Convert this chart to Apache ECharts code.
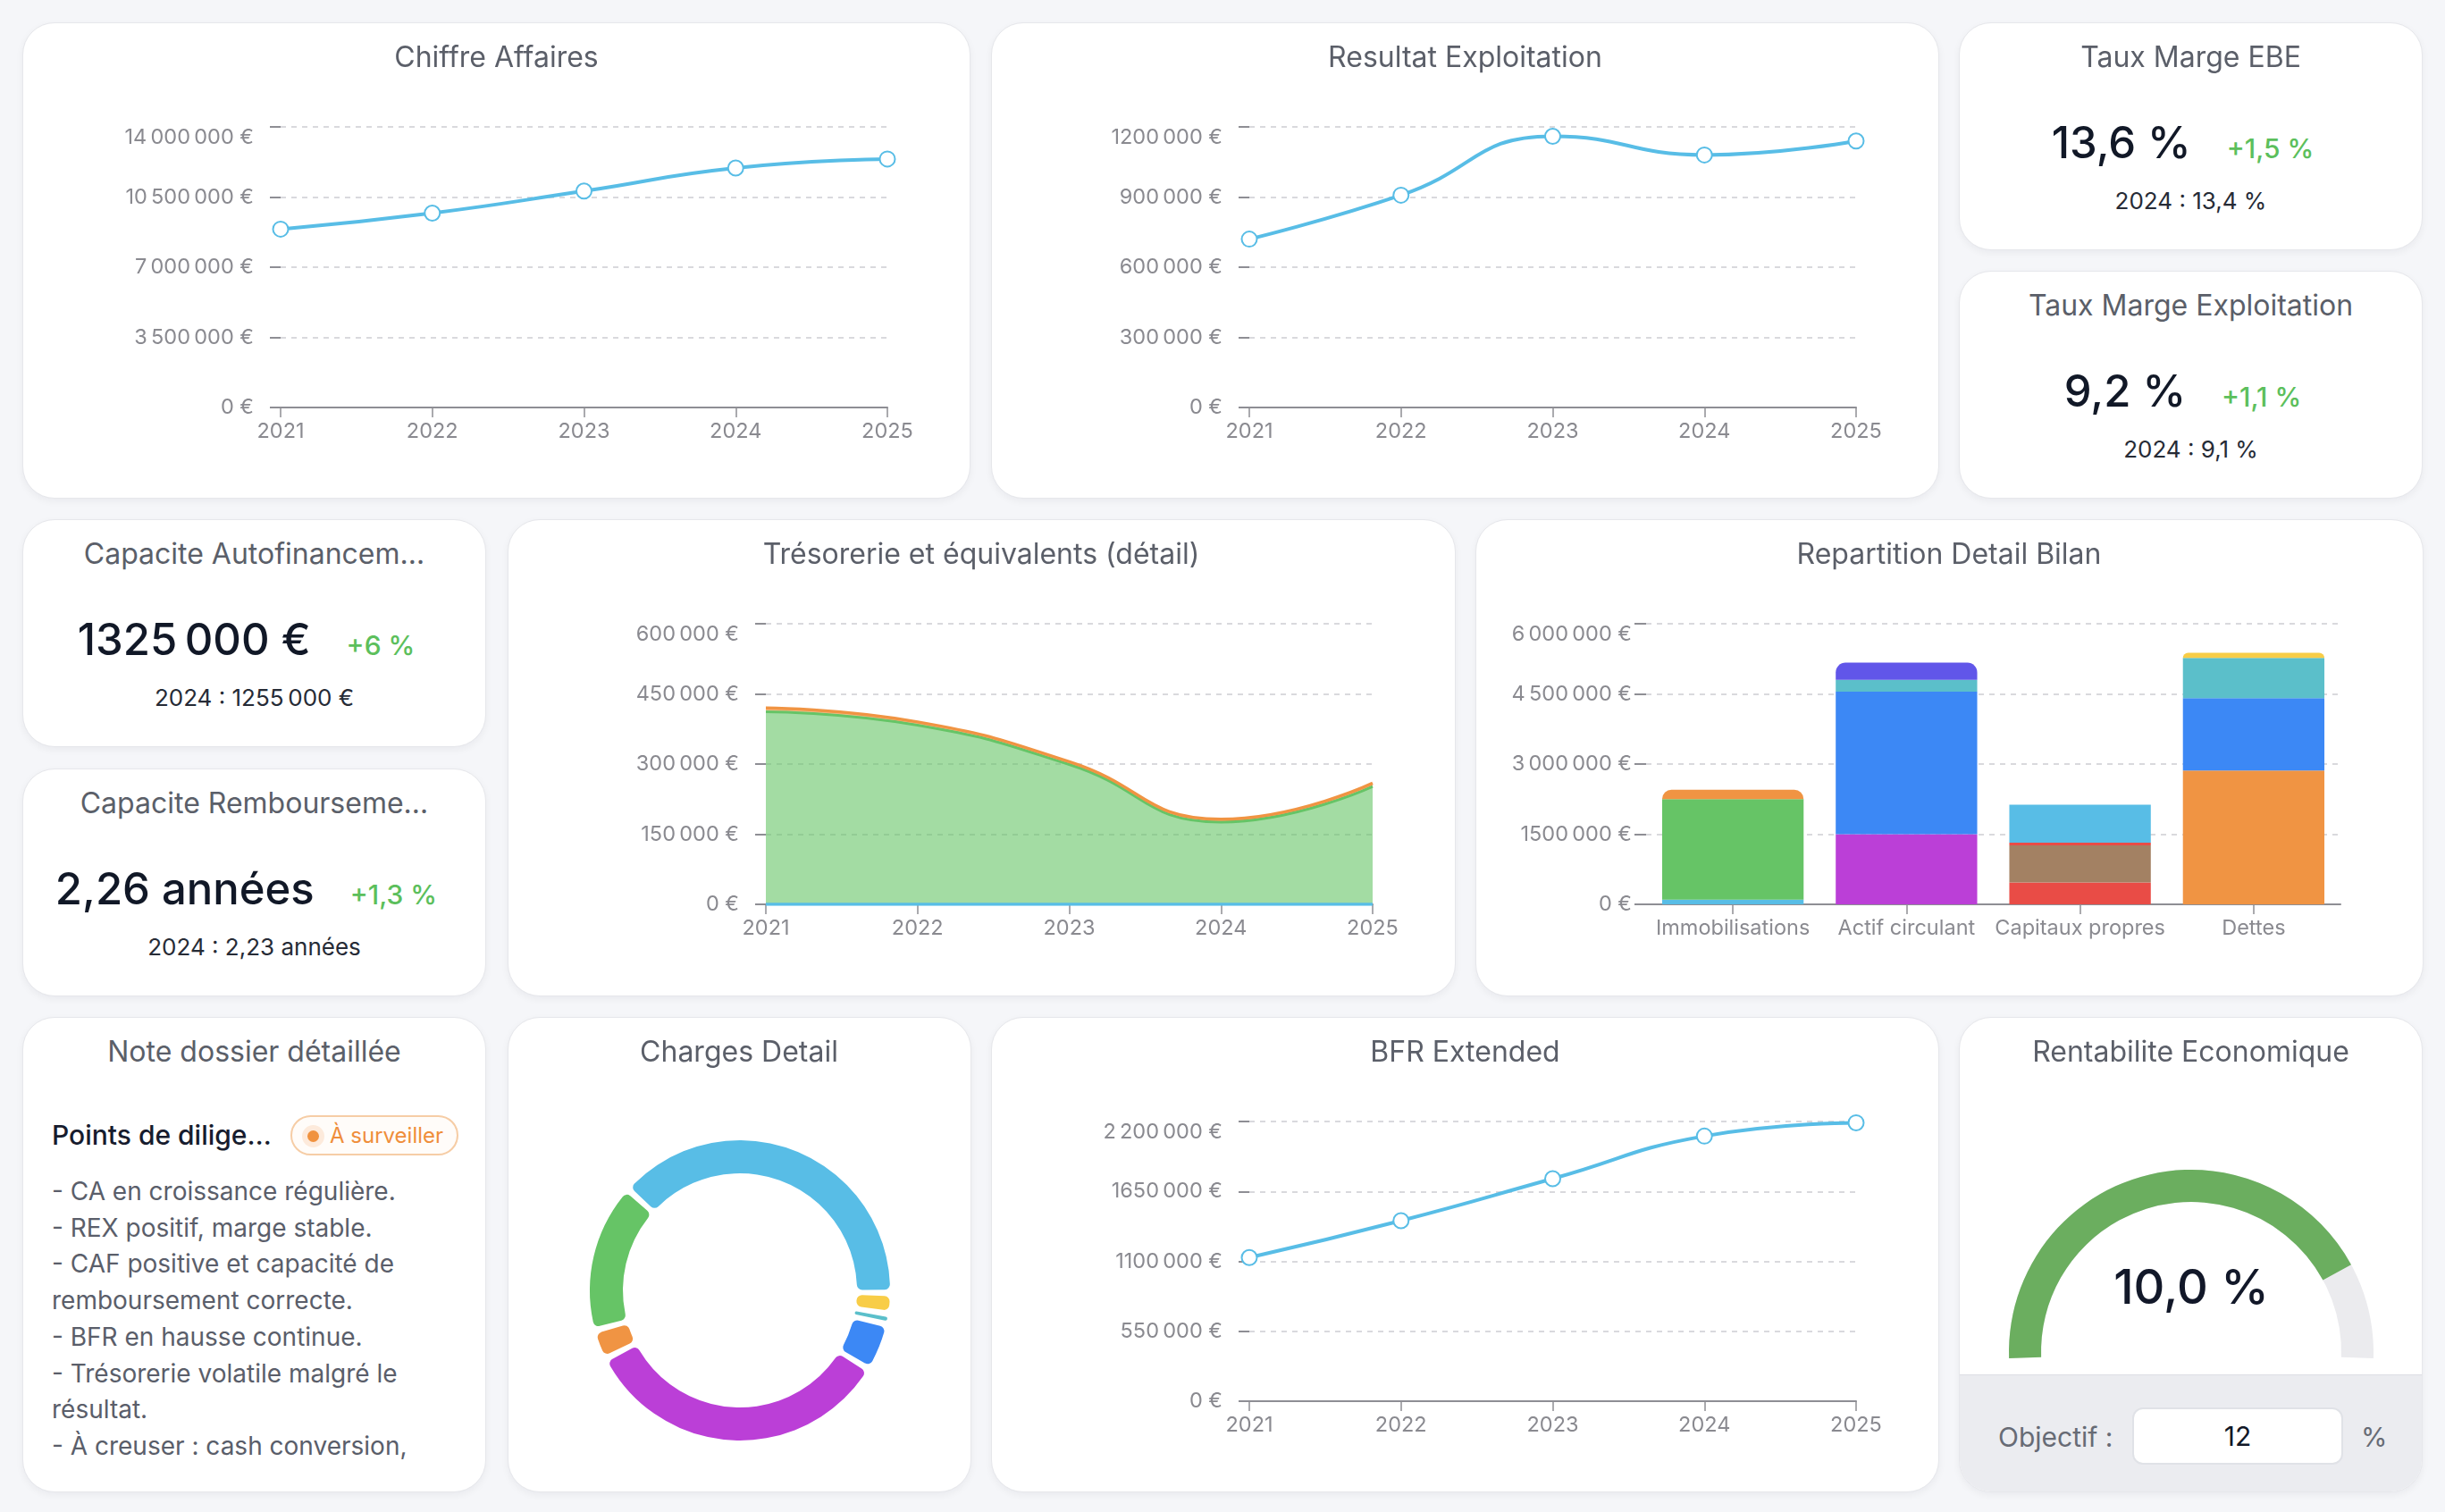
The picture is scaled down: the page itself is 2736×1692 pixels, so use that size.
<!DOCTYPE html>
<html>
<head>
<meta charset="utf-8">
<script src="https://cdn.jsdelivr.net/npm/echarts@6/dist/echarts.min.js"></script>
<style>
html,body{margin:0;padding:0;background:#f5f6f9;width:2736px;height:1692px;overflow:hidden;font-family:Inter,"Noto Sans",sans-serif;}
.card{position:absolute;background:#fff;border:1px solid #e6e7eb;border-radius:36px;box-shadow:0 3px 8px rgba(16,24,40,0.05);box-sizing:border-box;overflow:hidden;}
.ttl{position:absolute;left:0;right:0;top:22px;text-align:center;font-size:32px;line-height:1;color:#5b5f69;white-space:nowrap;z-index:2;}
.chart{position:absolute;left:0;top:0;width:100%;height:100%;}
.row{position:absolute;left:0;right:0;top:109px;display:flex;justify-content:center;align-items:baseline;gap:40px;padding-right:18px;line-height:1;}
.big{font-size:49px;font-weight:500;color:#111827;white-space:nowrap;}
.delta{font-size:30px;font-weight:500;color:#5cbf5c;white-space:nowrap;}
.sub{position:absolute;left:0;right:0;top:186px;text-align:center;font-size:26px;line-height:1;color:#262b36;white-space:nowrap;}
.nh{position:absolute;left:32px;top:116px;font-size:30px;line-height:1;color:#171c2e;font-weight:500;white-space:nowrap;}
.badge{position:absolute;left:299px;top:109px;width:188px;height:45px;box-sizing:border-box;border:2px solid #f6cda6;border-radius:23px;background:#fffcf9;}
.badge .halo{position:absolute;left:11px;top:9px;width:25px;height:25px;border-radius:50%;background:#fdeadb;}
.badge .dot{position:absolute;left:17px;top:15px;width:13px;height:13px;border-radius:50%;background:#f0923f;}
.badge .bt{position:absolute;left:42px;top:0;line-height:41px;font-size:24px;color:#ef8e3b;white-space:nowrap;}
.list{position:absolute;left:32px;top:174px;font-size:28px;line-height:40.7px;color:#5a5e6a;white-space:nowrap;}
.panel{position:absolute;left:0;right:0;top:399px;bottom:0;background:#ebecf0;border-top:1.5px solid #dcdee4;z-index:3;}
.obj{position:absolute;left:43px;top:37px;line-height:64px;font-size:30px;color:#676b75;}
.inp{position:absolute;left:193px;top:36px;width:236px;height:64px;box-sizing:border-box;background:#fff;border:2px solid #e0e2e7;border-radius:12px;text-align:center;line-height:60px;font-size:30px;color:#111827;}
.pct{position:absolute;left:449px;top:37px;line-height:64px;font-size:30px;color:#676b75;}
</style>
</head>
<body>
<div id="root"></div>
<script>
// ---------------- DATA ----------------
const years = ['2021', '2022', '2023', '2024', '2025'];

const chiffreAffaires = [8900000, 9700000, 10800000, 11950000, 12400000];
const chiffreAffairesAxis = [0, 14000000, 3500000];

const resultatExploitation = [720000, 908000, 1160000, 1080000, 1140000];
const resultatExploitationAxis = [0, 1200000, 300000];

const bfrExtended = [1130000, 1420000, 1750000, 2085000, 2190000];
const bfrAxis = [0, 2200000, 550000];

const tresoDisponibilites = [0, 0, 0, 0, 0];
const tresoComptesCourants = [412000, 383000, 299000, 176000, 252000];
const tresoPlacements = [8000, 7000, 6000, 6000, 7000];
const tresoAxis = [0, 600000, 150000];

const bilanCategories = ['Immobilisations', 'Actif circulant', 'Capitaux propres', 'Dettes'];
const bilanSegmentNames = ['Incorporelles', 'Corporelles', 'Financières',
  'Stocks', 'Créances', 'Autres créances', 'Disponibilités',
  'Capital', 'Réserves', 'Report à nouveau', 'Résultat',
  'Emprunts', 'Fournisseurs', 'Fiscales et sociales', 'Autres dettes'];
const bilanSegmentCategory = [0, 0, 0, 1, 1, 1, 1, 2, 2, 2, 2, 3, 3, 3, 3];
const bilanSegmentValues = [100000, 2150000, 200000,
  1500000, 3050000, 250000, 370000,
  470000, 790000, 60000, 810000,
  2860000, 1550000, 860000, 110000];
const bilanAxis = [0, 6000000, 1500000];

const chargesNames = ['Charges externes', 'Impôts et taxes', 'Autres charges', 'Dotations', 'Charges de personnel', 'Charges financières', 'Achats consommés'];
const chargesValues = [3475000, 200000, 100000, 462000, 3038000, 288000, 1437000];

const kpiTitles = ['Taux Marge EBE', 'Taux Marge Exploitation', 'Capacite Autofinancem…', 'Capacite Rembourseme…'];
const kpiCurrent = [13.6, 9.2, 1325000, 2.26];
const kpiPrevious = [13.4, 9.1, 1255000, 2.23];
const kpiKinds = ['pct', 'pct', 'eur', 'years'];
const kpiDeltaDecimals = [1, 1, 0, 1];

const noteTitle = 'Note dossier détaillée';
const noteHeader = 'Points de dilige…';
const noteBadge = 'À surveiller';
const noteLines = ['- CA en croissance régulière.', '- REX positif, marge stable.', '- CAF positive et capacité de',
  'remboursement correcte.', '- BFR en hausse continue.', '- Trésorerie volatile malgré le', 'résultat.',
  '- À creuser : cash conversion,'];

const rentabiliteValue = 10.0;
const rentabiliteObjectif = 12;

// ---------------- STYLE ----------------
const FONT = 'Inter';
const AX = '#8e8e94';
const LBL = '#8a8a90';
const GRIDC = '#cdcdd2';
const AXFS = 23.5;
const LB = '#58bde6', GREEN = '#66c466', ORANGE = '#f09443', PURPLE = '#bb3fd7', BLUE = '#3c88f5',
  TEAL = '#5bbfca', INDIGO = '#6156e9', RED = '#e94c46', BROWN = '#a38163', YELLOW = '#f8cd47';
const bilanColors = [LB, GREEN, ORANGE, PURPLE, BLUE, TEAL, INDIGO, RED, BROWN, RED, LB, ORANGE, BLUE, TEAL, YELLOW];
const bilanRoundTop = [true, true, false, true];
const chargesColors = [LB, YELLOW, TEAL, BLUE, PURPLE, ORANGE, GREEN];

const nf = new Intl.NumberFormat('fr-FR', {maximumFractionDigits: 0});
// the reference shows a lone leading "1" glued to the next group (e.g. "1200 000 €")
const eur = v => nf.format(v).replace(/^1[\u202f\u00a0 ](?=\d{3}[\u202f\u00a0 ]\d{3})/, '1') + '\u00a0€';
const dec = (v, d) => v.toFixed(d).replace('.', ',');

// ---------------- LAYOUT ----------------
const COL = [25, 567.5, 1109, 1650.5, 2192];
const W1 = 519, W2 = 1061;
const ROW = [25, 581, 1138];
const RH = [533, 534, 532];
const HH = 255;

const root = document.getElementById('root');
function card(x, y, w, h, title) {
  const d = document.createElement('div');
  d.className = 'card';
  d.style.left = x + 'px'; d.style.top = y + 'px'; d.style.width = w + 'px'; d.style.height = h + 'px';
  root.appendChild(d);
  if (title) {
    const t = document.createElement('div');
    t.className = 'ttl'; t.textContent = title; d.appendChild(t);
  }
  return d;
}
function chartDiv(c) {
  const d = document.createElement('div'); d.className = 'chart'; c.appendChild(d);
  return echarts.init(d, null, {renderer: 'canvas'});
}

function yAxisCfg(axis, margin, tickLen) {
  return {
    type: 'value', min: axis[0], max: axis[1], interval: axis[2],
    axisLine: {show: false},
    axisTick: {show: true, length: tickLen, lineStyle: {color: AX, width: 2}},
    axisLabel: {color: LBL, fontSize: AXFS, fontFamily: FONT, margin: margin, formatter: eur, verticalAlignMaxLabel: 'top'},
    splitLine: {show: true, lineStyle: {color: GRIDC, width: 1.5, type: [6, 6]}}
  };
}
function xAxisCfg(data, boundaryGap) {
  return {
    type: 'category', data: data, boundaryGap: boundaryGap,
    axisLine: {show: true, lineStyle: {color: AX, width: 2}},
    axisTick: {show: true, alignWithLabel: true, length: 11, lineStyle: {color: AX, width: 1.5}},
    axisLabel: {color: LBL, fontSize: AXFS, fontFamily: FONT, margin: 15, interval: 0},
    splitLine: {show: false}
  };
}
const LINE_GRID = {left: 288, right: 92, top: 116, bottom: 101};

function lineCard(x, y, w, h, title, values, axis) {
  const c = card(x, y, w, h, title);
  const ch = chartDiv(c);
  ch.setOption({
    animation: false,
    textStyle: {fontFamily: FONT},
    grid: LINE_GRID,
    xAxis: xAxisCfg(years, false),
    yAxis: yAxisCfg(axis, 30, 12),
    series: [{
      type: 'line', data: values, smooth: true, symbol: 'emptyCircle', symbolSize: 17, showAllSymbol: true,
      lineStyle: {color: LB, width: 4}, itemStyle: {color: LB, borderColor: LB, borderWidth: 3.5}
    }]
  });
}

// Row 1
lineCard(COL[0], ROW[0], W2, RH[0], 'Chiffre Affaires', chiffreAffaires, chiffreAffairesAxis);
lineCard(COL[2], ROW[0], W2, RH[0], 'Resultat Exploitation', resultatExploitation, resultatExploitationAxis);

function fmtKpi(v, kind) {
  if (kind === 'pct') return dec(v, 1) + ' %';
  if (kind === 'eur') return eur(v);
  return dec(v, 2) + ' années';
}
function kpiCard(x, y, i) {
  const c = card(x, y, W1, HH, kpiTitles[i]);
  const row = document.createElement('div'); row.className = 'row';
  const big = document.createElement('span'); big.className = 'big'; big.textContent = fmtKpi(kpiCurrent[i], kpiKinds[i]);
  const dl = document.createElement('span'); dl.className = 'delta';
  const pctChange = (kpiCurrent[i] / kpiPrevious[i] - 1) * 100;
  dl.textContent = (pctChange >= 0 ? '+' : '') + dec(pctChange, kpiDeltaDecimals[i]) + ' %';
  row.appendChild(big); row.appendChild(dl); c.appendChild(row);
  const s = document.createElement('div'); s.className = 'sub';
  s.textContent = '2024 : ' + fmtKpi(kpiPrevious[i], kpiKinds[i]);
  c.appendChild(s);
}
kpiCard(COL[4], ROW[0], 0);
kpiCard(COL[4], ROW[0] + 278, 1);
kpiCard(COL[0], ROW[1], 2);
kpiCard(COL[0], ROW[1] + 279, 3);

// Trésorerie
(function () {
  const c = card(COL[1], ROW[1], W2, RH[1], 'Trésorerie et équivalents (détail)');
  const ch = chartDiv(c);
  const mk = (name, data, color, lw, op) => ({
    name: name, type: 'line', stack: 'treso', data: data, smooth: true, symbol: 'none',
    lineStyle: {color: color, width: lw}, areaStyle: {color: color, opacity: op}, itemStyle: {color: color}
  });
  ch.setOption({
    animation: false,
    textStyle: {fontFamily: FONT},
    grid: {left: 288, right: 92, top: 116, bottom: 102},
    xAxis: xAxisCfg(years, false),
    yAxis: yAxisCfg(tresoAxis, 30, 12),
    series: [
      mk('Disponibilités', tresoDisponibilites, LB, 3.5, 0.6),
      mk('Comptes courants', tresoComptesCourants, GREEN, 3, 0.6),
      mk('Placements', tresoPlacements, ORANGE, 3.5, 0.6)
    ]
  });
})();

// Repartition Detail Bilan
(function () {
  const c = card(COL[3], ROW[1], W2, RH[1], 'Repartition Detail Bilan');
  const ch = chartDiv(c);
  const lastOfCat = {};
  bilanSegmentCategory.forEach((cat, i) => { lastOfCat[cat] = i; });
  const series = bilanSegmentValues.map((v, i) => {
    const cat = bilanSegmentCategory[i];
    const isTop = lastOfCat[cat] === i && bilanRoundTop[cat];
    return {
      name: bilanSegmentNames[i], type: 'bar', stack: 'bilan', barWidth: '81.5%',
      itemStyle: {color: bilanColors[i]},
      data: bilanCategories.map((_, k) => k === cat
        ? (isTop ? {value: v, itemStyle: {borderRadius: [11, 11, 0, 0]}} : v)
        : '-')
    };
  });
  ch.setOption({
    animation: false,
    textStyle: {fontFamily: FONT},
    grid: {left: 190, right: 92, top: 116, bottom: 102},
    xAxis: xAxisCfg(bilanCategories, true),
    yAxis: yAxisCfg(bilanAxis, 16, 13),
    series: series
  });
})();

// Note dossier
(function () {
  const c = card(COL[0], ROW[2], W1, RH[2], noteTitle);
  const h = document.createElement('div'); h.className = 'nh'; h.textContent = noteHeader; c.appendChild(h);
  const b = document.createElement('div'); b.className = 'badge';
  b.innerHTML = '<div class="halo"></div><div class="dot"></div><div class="bt"></div>';
  b.querySelector('.bt').textContent = noteBadge;
  c.appendChild(b);
  const l = document.createElement('div'); l.className = 'list';
  noteLines.forEach((t, i) => { if (i) l.appendChild(document.createElement('br')); l.appendChild(document.createTextNode(t)); });
  c.appendChild(l);
})();

// Charges Detail
(function () {
  const c = card(COL[1], ROW[2], W1, RH[2], 'Charges Detail');
  const ch = chartDiv(c);
  ch.setOption({
    animation: false,
    series: [{
      type: 'pie', radius: [131, 168], center: [259, 305], startAngle: 138, clockwise: true,
      padAngle: 2.5, itemStyle: {borderRadius: 6},
      label: {show: false}, labelLine: {show: false},
      data: chargesValues.map((v, i) => ({name: chargesNames[i], value: v, itemStyle: {color: chargesColors[i]}}))
    }]
  });
})();

// BFR
lineCard(COL[2], ROW[2], W2, RH[2], 'BFR Extended', bfrExtended, bfrAxis);

// Rentabilite Economique
(function () {
  const c = card(COL[4], ROW[2], W1, RH[2], 'Rentabilite Economique');
  const ch = chartDiv(c);
  ch.setOption({
    animation: false,
    series: [{
      type: 'gauge', center: [259, 374], radius: 204, startAngle: 182, endAngle: -2,
      min: 0, max: rentabiliteObjectif,
      axisLine: {roundCap: false, lineStyle: {width: 36, color: [[1, '#ebebee']]}},
      progress: {show: true, width: 36, roundCap: false, itemStyle: {color: '#6bae5f'}},
      pointer: {show: false}, anchor: {show: false}, axisTick: {show: false}, splitLine: {show: false},
      axisLabel: {show: false}, title: {show: false},
      detail: {offsetCenter: [0, -70], fontSize: 54, fontWeight: 500, color: '#121829', fontFamily: FONT,
        formatter: v => dec(v, 1) + ' %'},
      data: [{value: rentabiliteValue}]
    }]
  });
  const p = document.createElement('div'); p.className = 'panel';
  p.innerHTML = '<div class="obj">Objectif :</div><div class="inp"></div><div class="pct">%</div>';
  p.querySelector('.inp').textContent = String(rentabiliteObjectif);
  c.appendChild(p);
})();
</script>
</body>
</html>
